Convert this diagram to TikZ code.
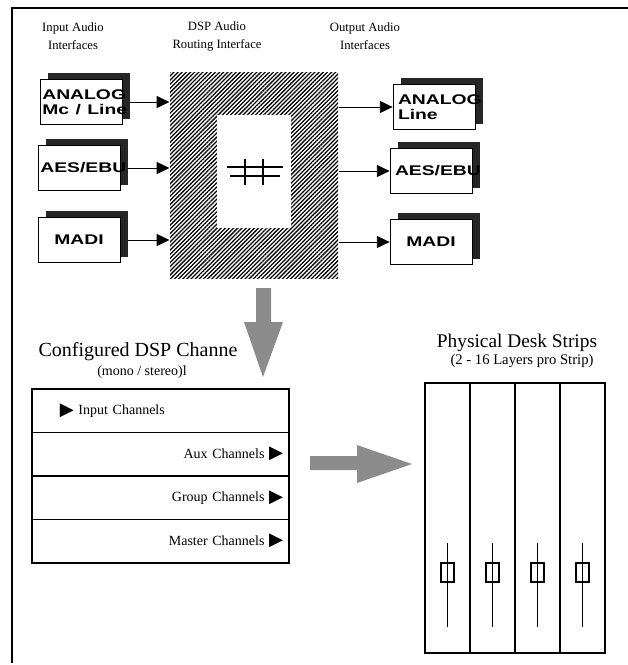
\documentclass[tikz,border=0pt]{standalone}
\usepackage{fontspec}
\setmainfont{Liberation Serif}
\setsansfont{Liberation Sans}
\newfontfamily\trifont{DejaVu Sans}
\usepackage{graphicx}
\usepackage{tikz}
\usetikzlibrary{arrows.meta, positioning, calc, patterns.meta}
\newcommand{\tri}{\raisebox{-0.5pt}{\scalebox{1.3}{\trifont\char"25B6}}}
\newcommand{\stretchlbl}[1]{\scalebox{1.38}[1]{#1}}

\begin{document}
\begin{tikzpicture}[x=0.75pt, y=-0.75pt, >={Triangle[length=9.5pt, width=9pt]},
  io/.style={draw, fill=white, line width=0.6pt, minimum width=61.5pt, minimum height=34pt,
    text width=58pt, inner xsep=1.75pt, align=left,
    font=\sffamily\bfseries\fontsize{10.5}{11.5}\selectfont},
  shadowbox/.style={fill=black!85, minimum width=61.5pt, minimum height=34pt, inner sep=0pt},
  head/.style={align=center, font=\fontsize{9.5}{13.5}\selectfont},
  dsp/.style={pattern={Lines[angle=45, distance=2.2pt, line width=0.95pt]},
    minimum width=126pt, minimum height=154.5pt, inner sep=0pt},
  core/.style={fill=white, minimum width=55.5pt, minimum height=84.75pt, inner sep=0pt},
  link/.style={->, line width=0.6pt},
  bigarrow/.style={fill=black!45},
  row/.style={draw, line width=1.3pt, outer sep=0pt, minimum height=32.6pt, text width=184pt,
    inner xsep=4.4pt, inner ysep=0pt, font=\fontsize{10.5}{12}\selectfont},
  strip/.style={draw, line width=1.3pt, outer sep=0pt, minimum width=33.75pt, minimum height=202.5pt},
  knob/.style={draw, line width=1.2pt, minimum width=9.75pt, minimum height=14.25pt, inner sep=0pt},
  fader/.style={line width=1.3pt}]

  \useasboundingbox (0,0) rectangle (628,665);

  % Frame
  \draw[line width=1.5pt] (12,663) -- (12,8);
  \draw[line width=2pt] (11,8) -- (628,8);

  % Headings
  \node[head] (hin) at (73,36) {Input Audio\\Interfaces};
  \node[head] (hdsp) at (217,36) {DSP Audio\\Routing Interface};
  \node[head] (hout) at (365,36) {Output Audio\\Interfaces};

  % Input interfaces
  \node[shadowbox] (in1s) at (89,96) {};
  \node[io] (in1) at ($(in1s)+(-8,6)$) {\stretchlbl{ANALOG}\\\stretchlbl{Mc / Line}};
  \node[shadowbox] (in2s) at (87,162) {};
  \node[io] (in2) at ($(in2s)+(-8,6)$) {\stretchlbl{AES/EBU}};
  \node[shadowbox] (in3s) at (87,234) {};
  \node[io, align=center] (in3) at ($(in3s)+(-8,6)$) {\stretchlbl{MADI}};

  % DSP routing
  \node[dsp] (dsp) at (254,175) {};
  \node[core] (core) at (254,171.5) {};
  \draw[line width=1.1pt] ($(core)+(-9,-12.5)$) -- ($(core)+(-9,13.5)$);
  \draw[line width=1.1pt] ($(core)+(9,-12.5)$) -- ($(core)+(9,13.5)$);
  \draw[line width=1.1pt] ($(core)+(-27,-4.5)$) -- ($(core)+(29,-4.5)$);
  \draw[line width=1.1pt] ($(core)+(-24,4.5)$) -- ($(core)+(26,4.5)$);

  % Output interfaces
  \node[shadowbox] (out1s) at (442,101) {};
  \node[io] (out1) at ($(out1s)+(-8,6)$) {\hspace*{2pt}\stretchlbl{ANALOG}\\\hspace*{2pt}\stretchlbl{Line}};
  \node[shadowbox] (out2s) at (439,165) {};
  \node[io] (out2) at ($(out2s)+(-8,6)$) {\hspace*{2pt}\stretchlbl{AES/EBU}};
  \node[shadowbox] (out3s) at (439,236) {};
  \node[io, align=center] (out3) at ($(out3s)+(-8,6)$) {\stretchlbl{MADI}};

  % Signal arrows
  \draw[link] (in1s.east |- in1.center) -- (dsp.west |- in1.center);
  \draw[link] (in2s.east |- in2.center) -- (dsp.west |- in2.center);
  \draw[link] (in3s.east |- in3.center) -- (dsp.west |- in3.center);
  \draw[link] (dsp.east |- out1.center) -- (out1.west);
  \draw[link] (dsp.east |- out2.center) -- (out2.west);
  \draw[link] (dsp.east |- out3.center) -- (out3.west);

  % Big arrows
  \fill[bigarrow] (256,288) -- (271,288) -- (271,322) -- (283,322) -- (263,377)
    -- (244,322) -- (256,322) -- cycle;
  \fill[bigarrow] (310,456) -- (357,456) -- (357,445) -- (412,464) -- (357,483)
    -- (357,470) -- (310,470) -- cycle;

  % Configured channels
  \node[font=\fontsize{15}{18}\selectfont] (conf) at (138,352) {Configured DSP Channe};
  \node[font=\fontsize{10.5}{12}\selectfont] (mode) at (142,372) {(mono / stereo)l};
  \node[row, align=left] (r1) at (160.5,410.75) {\hspace*{16.5pt}\tri\ Input Channels};
  \node[row, align=right, below=0pt of r1] (r2) {Aux Channels \tri};
  \node[row, align=right, below=0pt of r2] (r3) {Group Channels \tri};
  \node[row, align=right, below=0pt of r3] (r4) {Master Channels \tri};

  % Desk strips
  \node[font=\fontsize{14.5}{17}\selectfont] (desk) at (517,343) {Physical Desk Strips};
  \node[font=\fontsize{11}{13}\selectfont] (layers) at (522,361) {(2 - 16 Layers pro Strip)};
  \node[strip] (s1) at (447.5,518) {};
  \node[strip, right=0pt of s1] (s2) {};
  \node[strip, right=0pt of s2] (s3) {};
  \node[strip, right=0pt of s3] (s4) {};

  % Faders
  \draw[fader] ($(s1.center)+(0,25)$) -- ($(s1.center)+(0,109)$);
  \draw[fader] ($(s2.center)+(0,25)$) -- ($(s2.center)+(0,109)$);
  \draw[fader] ($(s3.center)+(0,25)$) -- ($(s3.center)+(0,109)$);
  \draw[fader] ($(s4.center)+(0,25)$) -- ($(s4.center)+(0,109)$);
  \node[knob] (k1) at ($(s1.center)+(0,54.5)$) {};
  \node[knob] (k2) at ($(s2.center)+(0,54.5)$) {};
  \node[knob] (k3) at ($(s3.center)+(0,54.5)$) {};
  \node[knob] (k4) at ($(s4.center)+(0,54.5)$) {};
\end{tikzpicture}
\end{document}
